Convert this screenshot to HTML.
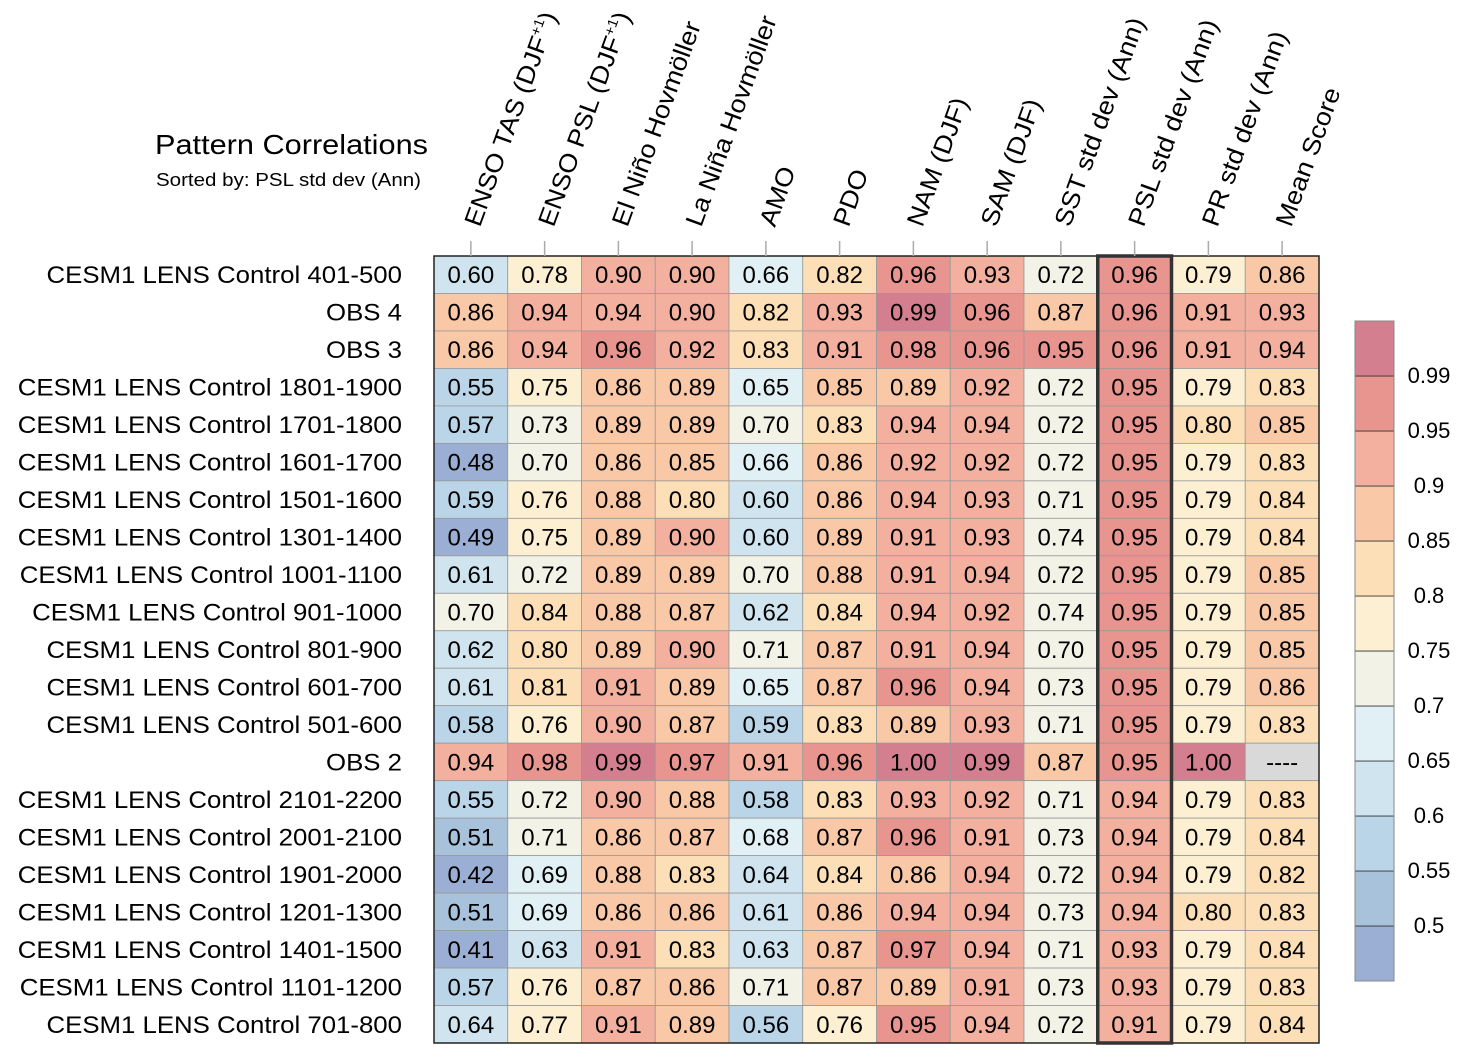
<!DOCTYPE html>
<html><head><meta charset="utf-8"><style>
body{margin:0;background:#fff}
svg{display:block;font-family:"Liberation Sans",Arial,sans-serif}
</style></head><body>
<svg id="chart" width="1472" height="1064" viewBox="0 0 1472 1064" xmlns="http://www.w3.org/2000/svg">
<text x="155" y="154" font-size="28" textLength="273" lengthAdjust="spacingAndGlyphs">Pattern Correlations</text>
<text x="156" y="186" font-size="18" textLength="265" lengthAdjust="spacingAndGlyphs">Sorted by: PSL std dev (Ann)</text>
<g id="cells"></g><g id="heads"></g><g id="rowlabs"></g><g id="cbar"></g>
</svg>
<script>
const columns=["ENSO TAS (DJF+1)","ENSO PSL (DJF+1)","El Niño Hovmöller","La Niña Hovmöller","AMO","PDO","NAM (DJF)","SAM (DJF)","SST std dev (Ann)","PSL std dev (Ann)","PR std dev (Ann)","Mean Score"];
const rows=["CESM1 LENS Control 401-500","OBS 4","OBS 3","CESM1 LENS Control 1801-1900","CESM1 LENS Control 1701-1800","CESM1 LENS Control 1601-1700","CESM1 LENS Control 1501-1600","CESM1 LENS Control 1301-1400","CESM1 LENS Control 1001-1100","CESM1 LENS Control 901-1000","CESM1 LENS Control 801-900","CESM1 LENS Control 601-700","CESM1 LENS Control 501-600","OBS 2","CESM1 LENS Control 2101-2200","CESM1 LENS Control 2001-2100","CESM1 LENS Control 1901-2000","CESM1 LENS Control 1201-1300","CESM1 LENS Control 1401-1500","CESM1 LENS Control 1101-1200","CESM1 LENS Control 701-800"];
const values=[
[0.60,0.78,0.90,0.90,0.66,0.82,0.96,0.93,0.72,0.96,0.79,0.86],
[0.86,0.94,0.94,0.90,0.82,0.93,0.99,0.96,0.87,0.96,0.91,0.93],
[0.86,0.94,0.96,0.92,0.83,0.91,0.98,0.96,0.95,0.96,0.91,0.94],
[0.55,0.75,0.86,0.89,0.65,0.85,0.89,0.92,0.72,0.95,0.79,0.83],
[0.57,0.73,0.89,0.89,0.70,0.83,0.94,0.94,0.72,0.95,0.80,0.85],
[0.48,0.70,0.86,0.85,0.66,0.86,0.92,0.92,0.72,0.95,0.79,0.83],
[0.59,0.76,0.88,0.80,0.60,0.86,0.94,0.93,0.71,0.95,0.79,0.84],
[0.49,0.75,0.89,0.90,0.60,0.89,0.91,0.93,0.74,0.95,0.79,0.84],
[0.61,0.72,0.89,0.89,0.70,0.88,0.91,0.94,0.72,0.95,0.79,0.85],
[0.70,0.84,0.88,0.87,0.62,0.84,0.94,0.92,0.74,0.95,0.79,0.85],
[0.62,0.80,0.89,0.90,0.71,0.87,0.91,0.94,0.70,0.95,0.79,0.85],
[0.61,0.81,0.91,0.89,0.65,0.87,0.96,0.94,0.73,0.95,0.79,0.86],
[0.58,0.76,0.90,0.87,0.59,0.83,0.89,0.93,0.71,0.95,0.79,0.83],
[0.94,0.98,0.99,0.97,0.91,0.96,1.00,0.99,0.87,0.95,1.00,null],
[0.55,0.72,0.90,0.88,0.58,0.83,0.93,0.92,0.71,0.94,0.79,0.83],
[0.51,0.71,0.86,0.87,0.68,0.87,0.96,0.91,0.73,0.94,0.79,0.84],
[0.42,0.69,0.88,0.83,0.64,0.84,0.86,0.94,0.72,0.94,0.79,0.82],
[0.51,0.69,0.86,0.86,0.61,0.86,0.94,0.94,0.73,0.94,0.80,0.83],
[0.41,0.63,0.91,0.83,0.63,0.87,0.97,0.94,0.71,0.93,0.79,0.84],
[0.57,0.76,0.87,0.86,0.71,0.87,0.89,0.91,0.73,0.93,0.79,0.83],
[0.64,0.77,0.91,0.89,0.56,0.76,0.95,0.94,0.72,0.91,0.79,0.84]];
const levels=[0.5,0.55,0.6,0.65,0.7,0.75,0.8,0.85,0.9,0.95,0.99];
const levelLabels=["0.5","0.55","0.6","0.65","0.7","0.75","0.8","0.85","0.9","0.95","0.99"];
const palette=["#9aafd3","#a9c2dc","#bad5e8","#cfe4ee","#e1f0f4","#f3f2e7","#fdf0d2","#fcdfb6","#f9c8a6","#f3b09e","#e9958f","#d47f8f"];
const sortedCol=9;
const NS="http://www.w3.org/2000/svg";
const X0=434,X1=1319,Y0=256,Y1=1043;
const cw=(X1-X0)/columns.length, rh=(Y1-Y0)/rows.length;
const xc=i=>X0+i*cw, yr=j=>Y0+j*rh;
function mk(t,a,p){const e=document.createElementNS(NS,t);for(const k in a)e.setAttribute(k,a[k]);p.appendChild(e);return e;}
function colorOf(v){let k=0;for(let i=0;i<levels.length;i++)if(v>=levels[i]-1e-9)k=i+1;return palette[k];}
const cells=document.getElementById('cells');
rows.forEach((r,j)=>{columns.forEach((c,i)=>{
 const v=values[j][i];
 const rc=mk('rect',{x:xc(i),y:yr(j),width:cw,height:rh,fill:v==null?'#d9d9d9':colorOf(v),stroke:'#999','stroke-width':0.8},cells);
 
 
 const t=mk('text',{x:xc(i)+cw/2,y:yr(j)+rh/2+8.5,'text-anchor':'middle','font-size':24},cells);
 
 
 t.textContent=v==null?'----':v.toFixed(2);
});});
const fr=mk('rect',{x:X0,y:Y0,width:X1-X0,height:Y1-Y0,fill:'none',stroke:'#222','stroke-width':1.5},cells);


const hl=mk('rect',{x:xc(sortedCol),y:Y0,width:cw,height:Y1-Y0,fill:'none',stroke:'#333','stroke-width':3.5},cells);


const heads=document.getElementById('heads');
columns.forEach((c,i)=>{
 const cx=xc(i)+cw/2;
 const tk=mk('line',{x1:cx,x2:cx,y1:241,y2:Y0,stroke:'#aaa','stroke-width':1.5},heads);
 
 
 const t=mk('text',{transform:`translate(${cx+9},228) rotate(-70) scale(1.08,1)`,'font-size':25},heads);
 
 
 if(c.includes('+1')){const parts=c.split('+1');
  t.appendChild(document.createTextNode(parts[0]));
  const s=mk('tspan',{'font-size':14,dy:-10},t);s.textContent='+1';
  const s2=mk('tspan',{dy:10},t);s2.textContent=parts[1];
 } else t.textContent=c;
});
const rl=document.getElementById('rowlabs');
rows.forEach((r,j)=>{
 const t=mk('text',{transform:`translate(402,${yr(j)+rh/2+8.5}) scale(1.075,1)`,'text-anchor':'end','font-size':24},rl);
 
 
 t.textContent=r;
});
const cb=document.getElementById('cbar');
const CB_X=1355,CB_W=39,CB_TOP=321,seg=55;
palette.forEach((col,k)=>{
 const y=CB_TOP+(palette.length-1-k)*seg;
 const r=mk('rect',{x:CB_X,y:y,width:CB_W,height:seg,fill:col,stroke:'#333','stroke-width':0.8},cb);
 
 
});
const cf=mk('rect',{x:CB_X,y:CB_TOP,width:CB_W,height:seg*palette.length,fill:'none',stroke:'#888','stroke-width':1},cb);


levels.forEach((l,k)=>{
 const y=CB_TOP+(palette.length-1-k)*seg;
 const t=mk('text',{x:1429,y:y+7,'text-anchor':'middle','font-size':22},cb);
 
 
 t.textContent=levelLabels[k];
});
</script>
</body></html>
